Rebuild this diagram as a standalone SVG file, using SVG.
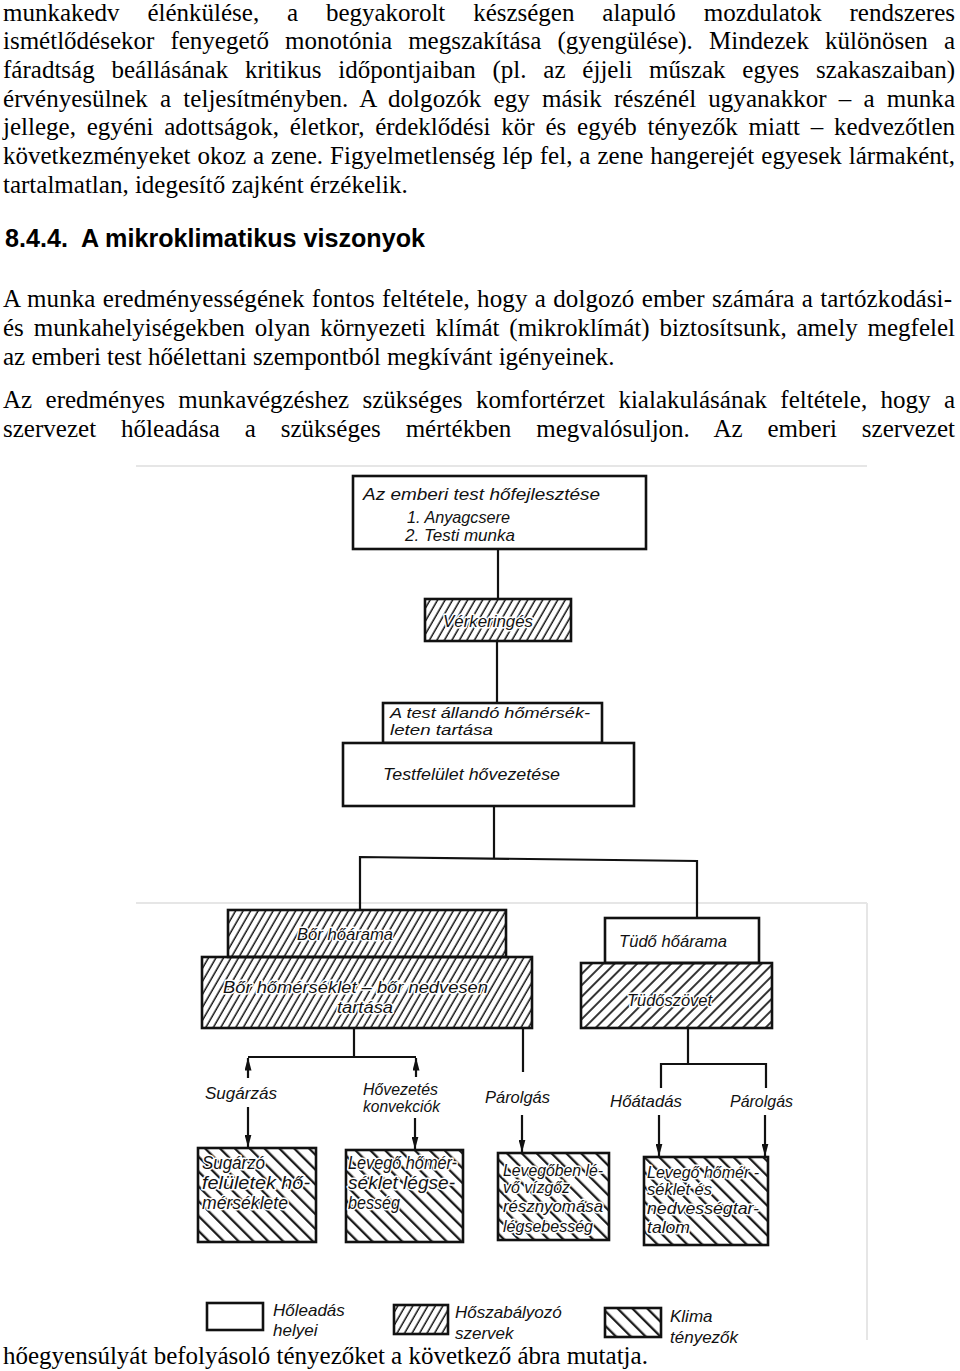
<svg xmlns="http://www.w3.org/2000/svg" width="960" height="1371" viewBox="0 0 960 1371">
<style>
.body{font-family:"Liberation Serif","Times New Roman",serif;font-size:25px;fill:#000}
.head{font-family:"Liberation Sans",Arial,sans-serif;font-size:26px;font-weight:bold;fill:#000}
.lab{font-family:"Liberation Sans",Arial,sans-serif;font-style:italic;font-size:17px;fill:#111}
.lab2{font-family:"Liberation Sans",Arial,sans-serif;font-style:italic;font-size:18px;fill:#111}
.sm{font-size:15.5px}
.halo{paint-order:stroke;stroke:#fff;stroke-width:3px;stroke-linejoin:round}
.box{fill:#fff;stroke:#111;stroke-width:2.6}
.hbox{stroke:#111;stroke-width:2.6}
.con{fill:none;stroke:#111;stroke-width:2.2}
.arr{fill:none;stroke:#111;stroke-width:2.2;marker-end:url(#arrow)}
.frame{fill:none;stroke:#e6e6e6;stroke-width:2}
</style>
<defs>
<pattern id="hatchA" width="6.5" height="10" patternUnits="userSpaceOnUse" patternTransform="rotate(30)">
<line x1="3" y1="0" x2="3" y2="10" stroke="#111" stroke-width="1.5"/>
</pattern>
<pattern id="hatchT" width="8" height="10" patternUnits="userSpaceOnUse" patternTransform="rotate(45)">
<line x1="4" y1="0" x2="4" y2="10" stroke="#111" stroke-width="1.7"/>
</pattern>
<pattern id="hatchK" width="10.5" height="10" patternUnits="userSpaceOnUse" patternTransform="rotate(-45)">
<line x1="5" y1="0" x2="5" y2="10" stroke="#111" stroke-width="2.2"/>
</pattern>
<marker id="arrow" markerWidth="13" markerHeight="7" refX="12.5" refY="3.5" orient="auto" markerUnits="userSpaceOnUse">
<path d="M0,0 L13,3.5 L0,7 z" fill="#111"/>
</marker>
</defs>
<rect width="960" height="1371" fill="#fff"/>

<g id="page-text">
<text class="body" x="3" y="21" textLength="952" lengthAdjust="spacing" word-spacing="21.6">munkakedv élénkülése, a begyakorolt készségen alapuló mozdulatok rendszeres</text>
<text class="body" x="3" y="49" textLength="952" lengthAdjust="spacing" word-spacing="9.9">ismétlődésekor fenyegető monotónia megszakítása (gyengülése). Mindezek különösen a</text>
<text class="body" x="3" y="78" textLength="952" lengthAdjust="spacing" word-spacing="10.5">fáradtság beállásának kritikus időpontjaiban (pl. az éjjeli műszak egyes szakaszaiban)</text>
<text class="body" x="3" y="107" textLength="952" lengthAdjust="spacing" word-spacing="5.9">érvényesülnek a teljesítményben. A dolgozók egy másik részénél ugyanakkor – a munka</text>
<text class="body" x="3" y="135" textLength="952" lengthAdjust="spacing" word-spacing="4.5">jellege, egyéni adottságok, életkor, érdeklődési kör és egyéb tényezők miatt – kedvezőtlen</text>
<text class="body" x="3" y="164" textLength="952" lengthAdjust="spacing" word-spacing="0.7">következményeket okoz a zene. Figyelmetlenség lép fel, a zene hangerejét egyesek lármaként,</text>
<text class="body" x="3" y="193">tartalmatlan, idegesítő zajként érzékelik.</text>
<text class="head" x="5" y="247" textLength="420" lengthAdjust="spacingAndGlyphs">8.4.4.&#160; A mikroklimatikus viszonyok</text>
<text class="body" x="3" y="307" textLength="949" lengthAdjust="spacing" word-spacing="0.9">A munka eredményességének fontos feltétele, hogy a dolgozó ember számára a tartózkodási-</text>
<text class="body" x="3" y="336" textLength="952" lengthAdjust="spacing" word-spacing="3.6">és munkahelyiségekben olyan környezeti klímát (mikroklímát) biztosítsunk, amely megfelel</text>
<text class="body" x="3" y="365">az emberi test hőélettani szempontból megkívánt igényeinek.</text>
<text class="body" x="3" y="408" textLength="952" lengthAdjust="spacing" word-spacing="7.1">Az eredményes munkavégzéshez szükséges komfortérzet kialakulásának feltétele, hogy a</text>
<text class="body" x="3" y="437" textLength="952" lengthAdjust="spacing" word-spacing="18.6">szervezet hőleadása a szükséges mértékben megvalósuljon. Az emberi szervezet</text>
<text class="body" x="3" y="1364">hőegyensúlyát befolyásoló tényezőket a következő ábra mutatja.</text>
</g>

<g id="scan-frame">
<path class="frame" d="M136,466 H867 M136,903 H867 M867,903 V1340"/>
</g>

<g id="connectors">
<path class="con" d="M498,549 V599"/>
<path class="con" d="M497,641 V703"/>
<path class="con" d="M494,806 V858"/>
<path class="con" d="M360,910 V857 L697,861 V918"/>
<path class="con" d="M354,1028 V1057 M248,1057 H416"/>
<path class="arr" d="M248,1078 V1058"/>
<path class="arr" d="M416,1077 V1058"/>
<path class="con" d="M523,1028 V1072"/>
<path class="con" d="M688,1028 V1064 M661,1088 V1064 H766 V1088"/>
<path class="arr" d="M248,1107 V1147"/>
<path class="arr" d="M415,1118 V1149"/>
<path class="arr" d="M522,1115 V1152"/>
<path class="arr" d="M659,1115 V1156"/>
<path class="arr" d="M765,1115 V1156"/>
</g>

<g id="n-hofejlesztes">
<rect class="box" x="353" y="476" width="293" height="73"/>
<text class="lab" x="363" y="500" textLength="237" lengthAdjust="spacingAndGlyphs">Az emberi test hőfejlesztése</text>
<text class="lab" x="407" y="523" textLength="103" lengthAdjust="spacingAndGlyphs">1. Anyagcsere</text>
<text class="lab" x="405" y="541" textLength="110" lengthAdjust="spacingAndGlyphs">2. Testi munka</text>
</g>

<g id="n-verkeringes">
<rect class="hbox" x="425" y="599" width="146" height="42" fill="url(#hatchA)"/>
<text class="lab halo" x="443" y="627" textLength="90" lengthAdjust="spacingAndGlyphs">Vérkeringés</text>
</g>

<g id="n-allando">
<rect class="box" x="383" y="703" width="219" height="40"/>
<text class="lab sm" x="390" y="718" textLength="200" lengthAdjust="spacingAndGlyphs">A test állandó hőmérsék-</text>
<text class="lab sm" x="390" y="735" textLength="103" lengthAdjust="spacingAndGlyphs">leten tartása</text>
</g>

<g id="n-testfelulet">
<rect class="box" x="343" y="743" width="291" height="63"/>
<text class="lab" x="383" y="780" textLength="177" lengthAdjust="spacingAndGlyphs">Testfelület hővezetése</text>
</g>

<g id="n-bor-hoarama">
<rect class="hbox" x="228" y="910" width="278" height="47" fill="url(#hatchA)"/>
<text class="lab halo" x="297" y="940" textLength="96" lengthAdjust="spacingAndGlyphs">Bőr hőárama</text>
</g>

<g id="n-bor-homerseklet">
<rect class="hbox" x="202" y="957" width="330" height="71" fill="url(#hatchA)"/>
<text class="lab halo" x="223" y="993" textLength="265" lengthAdjust="spacingAndGlyphs">Bőr hőmérséklet – bőr nedvesen</text>
<text class="lab halo" x="337" y="1013" textLength="56" lengthAdjust="spacingAndGlyphs">tartása</text>
</g>

<g id="n-tudo-hoarama">
<rect class="box" x="605" y="918" width="154" height="45"/>
<text class="lab" x="619" y="947" textLength="108" lengthAdjust="spacingAndGlyphs">Tüdő hőárama</text>
</g>

<g id="n-tudoszovet">
<rect class="hbox" x="581" y="963" width="191" height="65" fill="url(#hatchT)"/>
<text class="lab halo" x="627" y="1006" textLength="85" lengthAdjust="spacingAndGlyphs">Tüdőszövet</text>
</g>

<g id="l-sugarzas">
<text class="lab" x="205" y="1099" textLength="72" lengthAdjust="spacingAndGlyphs">Sugárzás</text>
</g>
<g id="l-hovezetes">
<text class="lab" x="363" y="1095" textLength="75" lengthAdjust="spacingAndGlyphs">Hővezetés</text>
<text class="lab" x="363" y="1112" textLength="77" lengthAdjust="spacingAndGlyphs">konvekciók</text>
</g>
<g id="l-parolgas1">
<text class="lab" x="485" y="1103" textLength="65" lengthAdjust="spacingAndGlyphs">Párolgás</text>
</g>
<g id="l-hoatadas">
<text class="lab" x="610" y="1107" textLength="72" lengthAdjust="spacingAndGlyphs">Hőátadás</text>
</g>
<g id="l-parolgas2">
<text class="lab" x="730" y="1107" textLength="63" lengthAdjust="spacingAndGlyphs">Párolgás</text>
</g>

<g id="k-sugarzo">
<rect class="hbox" x="198" y="1148" width="118" height="94" fill="url(#hatchK)"/>
<text class="lab2 halo" x="202" y="1169" textLength="63" lengthAdjust="spacingAndGlyphs">Sugárzó</text>
<text class="lab2 halo" x="202" y="1189" textLength="108" lengthAdjust="spacingAndGlyphs">felületek hő-</text>
<text class="lab2 halo" x="202" y="1209" textLength="86" lengthAdjust="spacingAndGlyphs">mérséklete</text>
</g>

<g id="k-levego1">
<rect class="hbox" x="346" y="1150" width="117" height="92" fill="url(#hatchK)"/>
<text class="lab2 halo" x="348" y="1169" textLength="109" lengthAdjust="spacingAndGlyphs">Levegő hőmér-</text>
<text class="lab2 halo" x="348" y="1189" textLength="107" lengthAdjust="spacingAndGlyphs">séklet légse-</text>
<text class="lab2 halo" x="348" y="1209" textLength="52" lengthAdjust="spacingAndGlyphs">besség</text>
</g>

<g id="k-levegoben">
<rect class="hbox" x="498" y="1153" width="111" height="87" fill="url(#hatchK)"/>
<text class="lab halo" x="503" y="1176" textLength="100" lengthAdjust="spacingAndGlyphs">Levegőben lé-</text>
<text class="lab halo" x="503" y="1193" textLength="67" lengthAdjust="spacingAndGlyphs">vő vízgőz</text>
<text class="lab halo" x="503" y="1212" textLength="100" lengthAdjust="spacingAndGlyphs">résznyomása</text>
<text class="lab halo" x="503" y="1232" textLength="90" lengthAdjust="spacingAndGlyphs">légsebesség</text>
</g>

<g id="k-levego2">
<rect class="hbox" x="644" y="1157" width="124" height="88" fill="url(#hatchK)"/>
<text class="lab halo" x="647" y="1178" textLength="112" lengthAdjust="spacingAndGlyphs">Levegő hőmér -</text>
<text class="lab halo" x="647" y="1195" textLength="65" lengthAdjust="spacingAndGlyphs">séklet és</text>
<text class="lab halo" x="647" y="1214" textLength="112" lengthAdjust="spacingAndGlyphs">nedvességtar-</text>
<text class="lab halo" x="647" y="1233" textLength="43" lengthAdjust="spacingAndGlyphs">talom</text>
</g>

<g id="legend">
<rect class="box" x="207" y="1303" width="56" height="27"/>
<text class="lab" x="273" y="1316">Hőleadás</text>
<text class="lab" x="273" y="1336">helyei</text>
<rect class="hbox" x="394" y="1305" width="54" height="29" fill="url(#hatchA)"/>
<text class="lab" x="455" y="1318">Hőszabályozó</text>
<text class="lab" x="455" y="1339">szervek</text>
<rect class="hbox" x="605" y="1308" width="56" height="29" fill="url(#hatchK)"/>
<text class="lab" x="670" y="1322">Klima</text>
<text class="lab" x="670" y="1343">tényezők</text>
</g>
</svg>
